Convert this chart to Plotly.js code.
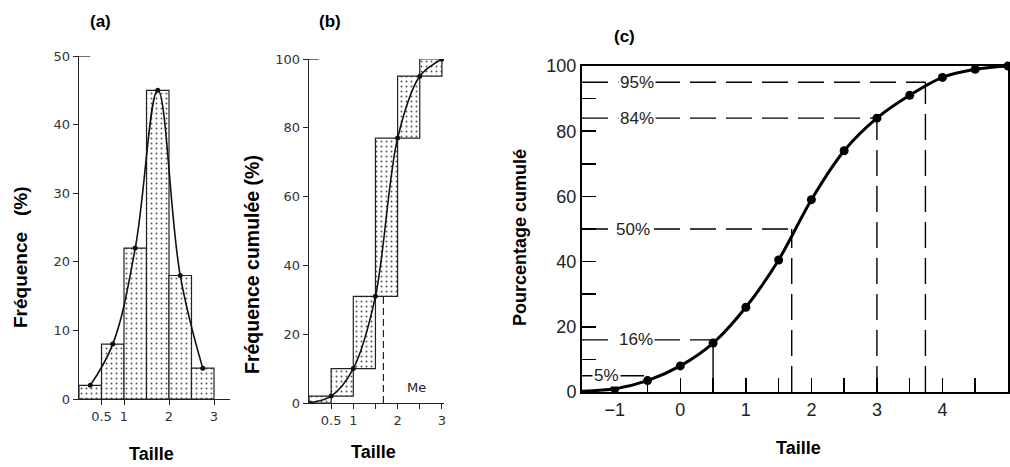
<!DOCTYPE html>
<html><head><meta charset="utf-8">
<script src="https://cdn.plot.ly/plotly-3.0.1.min.js"></script>
<style>html,body{margin:0;padding:0;background:#fff}#chart{width:1010px;height:467px}</style>
</head><body><div id="chart"></div>
<script>
// ---- Data ----
// (a) histogram of class frequencies
const classCentersA = [0.25, 0.75, 1.25, 1.75, 2.25, 2.75];
const freqA = [2, 8, 22, 45, 18, 4.5];
const xTickValsA = [0.5, 1, 2, 3];
const xTickTextA = ['0.5', '1', '2', '3'];
const yTickValsA = [0, 10, 20, 30, 40, 50];

// (b) cumulative frequency
const classEdgesB = [0, 0.5, 1, 1.5, 2, 2.5, 3];
const cumFreqB = [0, 2, 10, 31, 77, 95, 100];
const medianB = 1.68;
const xTickValsB = [0.5, 1, 1.5, 2, 2.5, 3];
const xTickTextB = ['0.5', '1', '', '2', '', '3'];
const yTickValsB = [0, 20, 40, 60, 80, 100];

// (c) cumulative percentage curve
const sizeC = [-1, -0.5, 0, 0.5, 1, 1.5, 2, 2.5, 3, 3.5, 4, 4.5, 5];
const cumC = [1, 3.5, 8, 15, 26, 40.5, 59, 74, 84, 91, 96.5, 99, 100];
const curveStartC = [-1.5, 0.2];
const pctLevels = [5, 16, 50, 84, 95];
const pctSizes = [-0.5, 0.5, 1.7, 3.0, 3.74];
const pctLabels = ['5%', '16%', '50%', '84%', '95%'];
const pctLabelX = [-1.12, -0.68, -0.72, -0.66, -0.66];
const xTickValsC = [-1, -0.5, 0, 0.5, 1, 1.5, 2, 2.5, 3, 3.5, 4, 4.5, 5];
const xTickTextC = ['\u22121', '', '0', '', '1', '', '2', '', '3', '', '4', '', '5'];
const yTickValsC = [0, 10, 20, 30, 40, 50, 60, 70, 80, 90, 100];
const yTickTextC = ['0', '', '20', '', '40', '', '60', '', '80', '', '100'];

// ---- Geometry helpers (pixel -> paper) ----
const W = 1010, H = 467;
const px = v => v / W;
const py = v => 1 - v / H;

const pattern = {shape: '.', fgcolor: '#555', bgcolor: '#fff', size: 5, solidity: 0.12};
const titleFont = {family: 'Liberation Sans, Arial, sans-serif', size: 17, color: '#000'};
const smallTick = {family: 'DejaVu Sans, sans-serif', size: 13, color: '#333'};

const traces = [
  // (a)
  {type: 'bar', x: classCentersA, y: freqA, width: 0.5, xaxis: 'x', yaxis: 'y',
   marker: {color: '#fff', pattern: pattern, line: {color: '#222', width: 1.2}}, hoverinfo: 'skip'},
  {type: 'scatter', mode: 'lines+markers', x: classCentersA, y: freqA, xaxis: 'x', yaxis: 'y',
   line: {color: '#111', width: 1.6, shape: 'spline', smoothing: 1.1},
   marker: {color: '#111', size: 5}},
  // (b)
  {type: 'bar', x: classEdgesB.slice(1).map((e, i) => (e + classEdgesB[i]) / 2),
   base: cumFreqB.slice(0, -1), y: cumFreqB.slice(1).map((v, i) => v - cumFreqB[i]),
   width: 0.5, xaxis: 'x2', yaxis: 'y2',
   marker: {color: '#fff', pattern: pattern, line: {color: '#222', width: 1.2}}, hoverinfo: 'skip'},
  {type: 'scatter', mode: 'lines+markers', x: classEdgesB, y: cumFreqB, xaxis: 'x2', yaxis: 'y2',
   line: {color: '#111', width: 1.6, shape: 'spline', smoothing: 0.9},
   marker: {color: '#111', size: 5}},
  // (c)
  {type: 'scatter', mode: 'lines', x: [curveStartC[0]].concat(sizeC), y: [curveStartC[1]].concat(cumC),
   xaxis: 'x3', yaxis: 'y3', line: {color: '#000', width: 3, shape: 'spline', smoothing: 0.8}, cliponaxis: false},
  {type: 'scatter', mode: 'markers', x: sizeC, y: cumC, xaxis: 'x3', yaxis: 'y3',
   marker: {color: '#000', size: 9}, cliponaxis: false}
];

const shapes = [];
const annotations = [];
const dashStyle = '26px,10px';

// (a) top tick crossing at 50 and small extension of the x axis
shapes.push({type: 'line', xref: 'x', yref: 'y', x0: -0.08, x1: 0.25, y0: 50, y1: 50, line: {color: '#222', width: 1.3}});
shapes.push({type: 'line', xref: 'x', yref: 'y', x0: -0.12, x1: 0, y0: 0, y1: 0, line: {color: '#222', width: 1.4}});
// (b) top tick at 100 and median line
shapes.push({type: 'line', xref: 'x2', yref: 'y2', x0: -0.08, x1: 0.22, y0: 100, y1: 100, line: {color: '#222', width: 1.3}});
shapes.push({type: 'line', xref: 'x2', yref: 'y2', x0: medianB, x1: medianB, y0: 0, y1: cumFreqB[3], line: {color: '#222', width: 1.2, dash: '7px,4px'}});
annotations.push({xref: 'x2', yref: 'y2', x: 2.42, y: 4.5, text: 'Me', showarrow: false,
  font: {family: 'DejaVu Sans, sans-serif', size: 13, color: '#222'}});

// (c) percentile lines
pctLevels.forEach((lv, i) => {
  shapes.push({type: 'line', xref: 'x3', yref: 'y3', x0: -1.5, x1: pctSizes[i], y0: lv, y1: lv,
    line: {color: '#000', width: 1.4, dash: dashStyle}});
  if (lv >= 50) {
    shapes.push({type: 'line', xref: 'x3', yref: 'y3', x0: pctSizes[i], x1: pctSizes[i], y0: 0, y1: lv,
      line: {color: '#000', width: 1.4, dash: dashStyle}});
  } else if (lv === 16) {
    shapes.push({type: 'line', xref: 'x3', yref: 'y3', x0: pctSizes[i], x1: pctSizes[i], y0: 0, y1: lv,
      line: {color: '#000', width: 1.4}});
  }
  annotations.push({xref: 'x3', yref: 'y3', x: pctLabelX[i], y: lv, text: pctLabels[i], showarrow: false,
    bgcolor: '#fff', borderpad: 1, font: {family: 'Liberation Sans, Arial, sans-serif', size: 17, color: '#222'}});
});

// Titles
const addText = (text, x, y, angle, font) => annotations.push({xref: 'paper', yref: 'paper', x: px(x), y: py(y),
  text: text, showarrow: false, textangle: angle || 0, xanchor: 'center', yanchor: 'middle', font: font});
const bold = t => '<b>' + t + '</b>';
addText(bold('(a)'), 100, 21, 0, titleFont);
addText(bold('(b)'), 330, 21, 0, titleFont);
addText(bold('(c)'), 624, 36, 0, titleFont);
addText(bold('Fréquence&nbsp;&nbsp;&nbsp;(%)'), 20, 258, -90, {...titleFont, size: 19});
addText(bold('Fréquence cumulée (%)'), 252, 265, -90, {...titleFont, size: 19.5});
addText(bold('Pourcentage cumulé'), 520, 238, -90, {...titleFont, size: 18});
addText(bold('Taille'), 151, 454, 0, {...titleFont, size: 18});
addText(bold('Taille'), 373, 452, 0, {...titleFont, size: 18});
addText(bold('Taille'), 798, 448, 0, {...titleFont, size: 18});

const axA = {showgrid: false, zeroline: false, showline: true, linecolor: '#222', linewidth: 1.4,
  ticks: 'outside', ticklen: 5, tickcolor: '#222', tickfont: smallTick, fixedrange: true};
const axC = {showgrid: false, zeroline: false, showline: true, linecolor: '#000', linewidth: 2,
  ticks: 'inside', ticklen: 14, tickwidth: 1.5, tickcolor: '#000', mirror: true,
  tickfont: {family: 'Liberation Sans, Arial, sans-serif', size: 18, color: '#222'}, fixedrange: true};

const layout = {
  width: W, height: H, margin: {l: 0, r: 0, t: 0, b: 0}, showlegend: false,
  paper_bgcolor: '#fff', plot_bgcolor: 'rgba(0,0,0,0)', bargap: 0,
  xaxis: {...axA, domain: [px(79), px(230)], range: [0, 151 / 45], tickmode: 'array', tickvals: xTickValsA, ticktext: xTickTextA, anchor: 'y'},
  yaxis: {...axA, domain: [py(399), py(56)], range: [0, 50], tickmode: 'array', tickvals: yTickValsA, anchor: 'x'},
  xaxis2: {...axA, domain: [px(309), px(444)], range: [0, 135 / 44.3], tickmode: 'array', tickvals: xTickValsB, ticktext: xTickTextB, anchor: 'y2'},
  yaxis2: {...axA, domain: [py(403), py(59)], range: [0, 100], tickmode: 'array', tickvals: yTickValsB, anchor: 'x2'},
  xaxis3: {...axC, domain: [px(582), px(1008)], range: [-1.5, 5], tickmode: 'array', tickvals: xTickValsC, ticktext: xTickTextC, anchor: 'y3'},
  yaxis3: {...axC, domain: [py(392), py(66)], range: [0, 100], tickmode: 'array', tickvals: yTickValsC, ticktext: yTickTextC, anchor: 'x3'},
  shapes: shapes, annotations: annotations
};

Plotly.newPlot('chart', traces, layout, {staticPlot: true, displayModeBar: false});
</script>
</body></html>
